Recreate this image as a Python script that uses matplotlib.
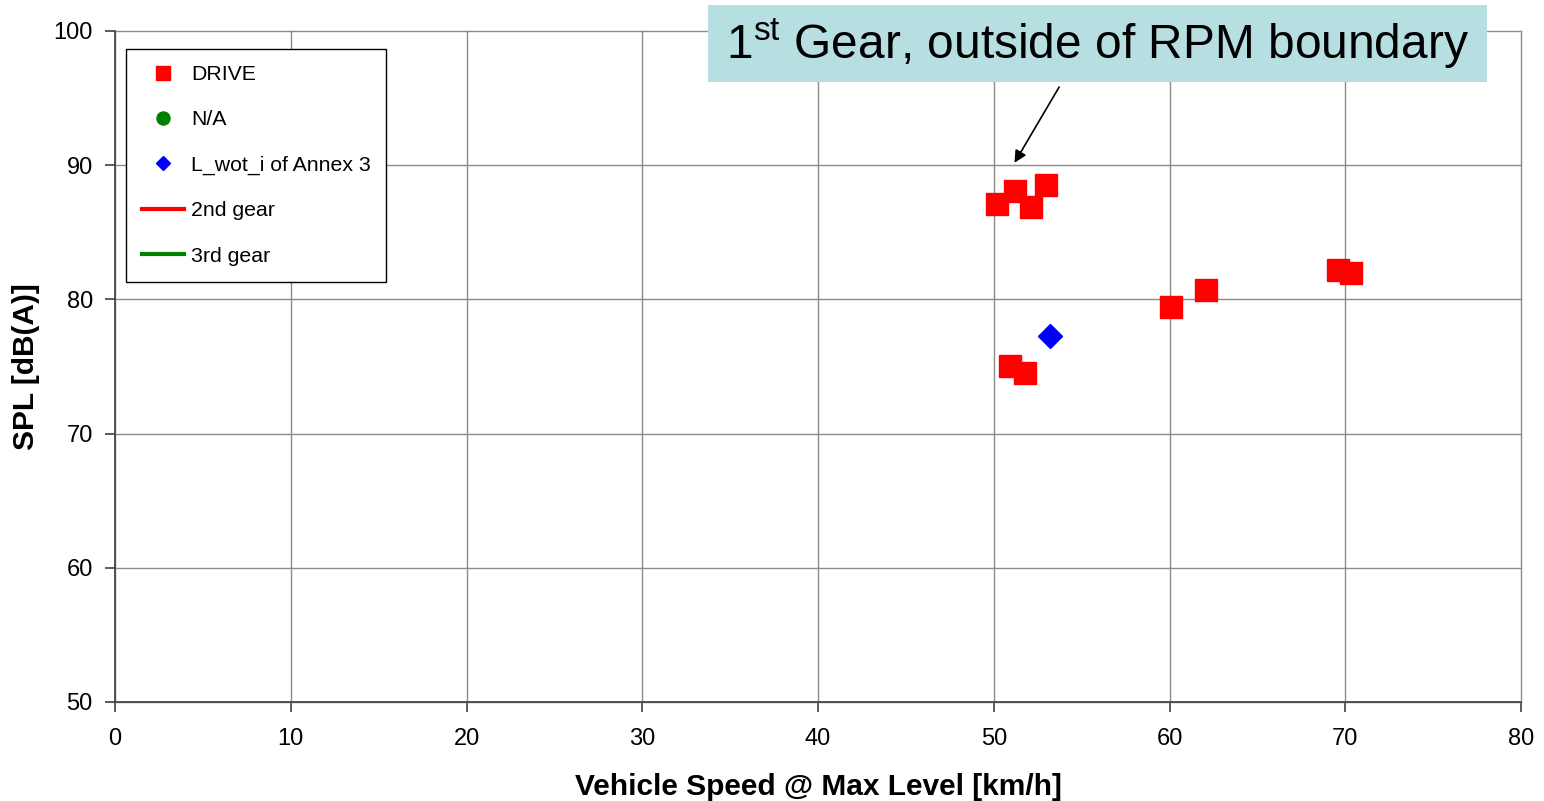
import matplotlib.pyplot as plt
from matplotlib.patches import Rectangle

# DRIVE measurements
drive_speed = [50.2, 51.2, 52.1, 53.0, 50.9, 51.8, 60.1, 62.1, 69.6, 70.3]
drive_spl = [87.1, 88.1, 86.9, 88.5, 75.0, 74.5, 79.4, 80.7, 82.2, 82.0]

# N/A series (empty in the chart)
na_speed = []
na_spl = []

# L_wot_i of Annex 3
lwot_speed = [53.2]
lwot_spl = [77.3]

# gear lines (empty in the chart)
gear2_speed = []
gear2_spl = []
gear3_speed = []
gear3_spl = []

x_ticks = [0, 10, 20, 30, 40, 50, 60, 70, 80]
y_ticks = [50, 60, 70, 80, 90, 100]

plt.rcParams['font.family'] = ['Liberation Sans', 'DejaVu Sans']
plt.rcParams['mathtext.fontset'] = 'custom'
plt.rcParams['mathtext.rm'] = 'Liberation Sans'

fig = plt.figure(figsize=(15.44, 8.01), dpi=100)
ax = fig.add_axes([0.0745, 0.1236, 0.9106, 0.8377])

ax.plot(drive_speed, drive_spl, linestyle='none', marker='s', markersize=16.5,
        color='#ff0000', label='DRIVE', zorder=3)
ax.plot(na_speed, na_spl, linestyle='none', marker='o', markersize=16.5,
        color='#008000', label='N/A', zorder=3)
ax.plot(lwot_speed, lwot_spl, linestyle='none', marker='D', markersize=12.5,
        color='#0000ff', label='L_wot_i of Annex 3', zorder=3)
ax.plot(gear2_speed, gear2_spl, color='#ff0000', linewidth=3, label='2nd gear')
ax.plot(gear3_speed, gear3_spl, color='#008000', linewidth=3, label='3rd gear')

ax.set_xlim(0, 80)
ax.set_ylim(50, 100)
ax.set_xticks(x_ticks)
ax.set_yticks(y_ticks)
ax.tick_params(labelsize=17, length=7, width=1.2, color='#404040')
ax.tick_params(axis='x', pad=12)
ax.tick_params(axis='y', pad=9)
ax.grid(True, color='#8c8c8c', linewidth=1)
for gl in ax.get_xgridlines() + ax.get_ygridlines():
    gl.set_clip_on(False)
ax.set_axisbelow(True)
for s in ['top', 'right']:
    ax.spines[s].set_visible(False)
for s in ['left', 'bottom']:
    ax.spines[s].set_color('#404040')
    ax.spines[s].set_linewidth(1.2)

ax.set_xlabel('Vehicle Speed @ Max Level [km/h]', fontsize=21.5, fontweight='bold', labelpad=16)
ax.set_ylabel('SPL [dB(A)]', fontsize=21.5, fontweight='bold', labelpad=10)

leg = ax.legend(loc='upper left', bbox_to_anchor=(0.0078, 0.973), borderaxespad=0,
                fontsize=15.3, markerscale=0.57, labelspacing=1.24, handlelength=2.0,
                handletextpad=0.3, borderpad=0.75, fancybox=False, framealpha=1,
                edgecolor='black')
leg.get_frame().set_linewidth(1)

ax.annotate('', xy=(51.1, 90.0), xytext=(53.8, 96.0),
            arrowprops=dict(arrowstyle='-|>', color='black', lw=1.2, mutation_scale=18))

fig.patches.append(Rectangle((0.4585, 0.8976), 0.5045, 0.0961, transform=fig.transFigure,
                             facecolor='#b7dfe2', edgecolor='none', zorder=5))
fig.text(0.7108, 0.9457, '1$^{\\mathrm{st}}$ Gear, outside of RPM boundary', fontsize=34.5,
         ha='center', va='center', zorder=6)

fig.savefig('out.png', dpi=100)
